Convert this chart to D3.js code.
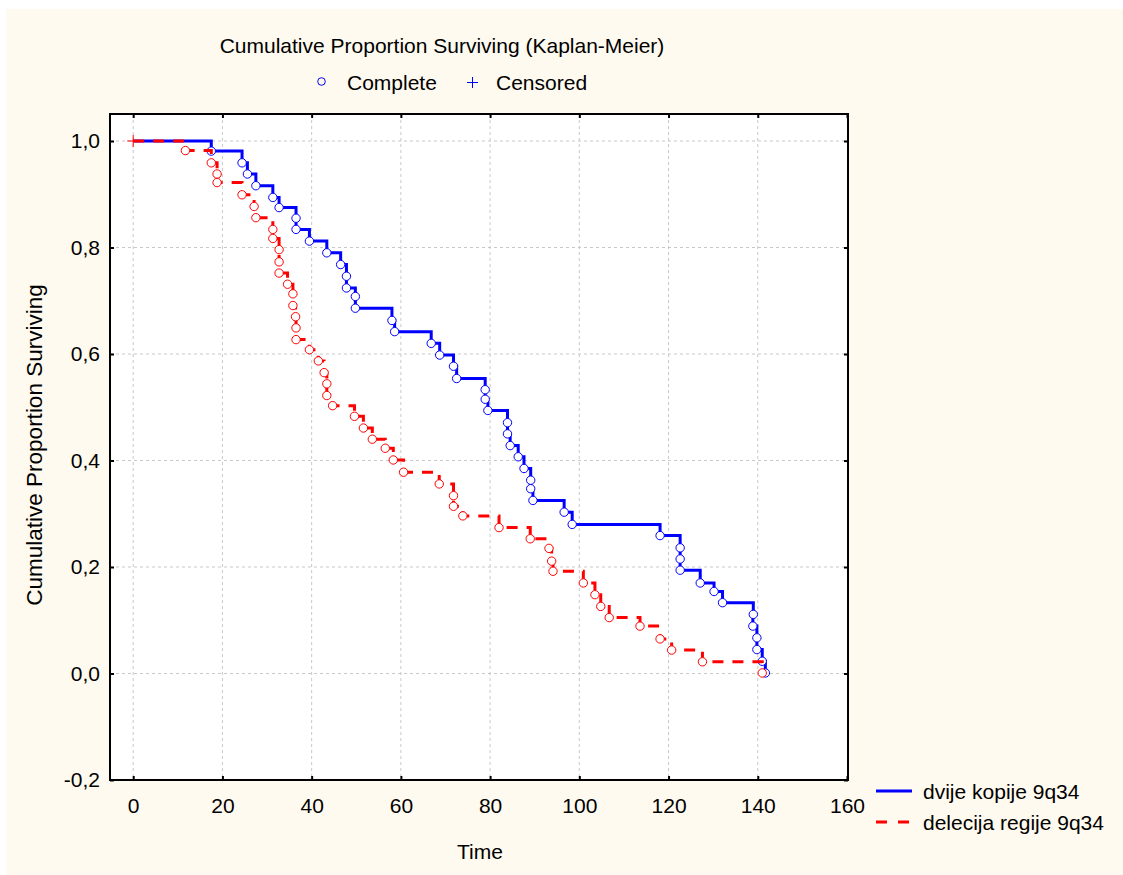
<!DOCTYPE html>
<html>
<head>
<meta charset="utf-8">
<script src="https://cdn.jsdelivr.net/npm/d3@7"></script>
<style>
  body { margin: 0; background: #ffffff; }
  text { font-family: "Liberation Sans", Arial, sans-serif; fill: #000; }
</style>
</head>
<body>
<script>
'use strict';

// tick values on both axes
const xTicks = [0, 20, 40, 60, 80, 100, 120, 140, 160];
const yTicks = [-0.2, 0.0, 0.2, 0.4, 0.6, 0.8, 1.0];

// group names (legend)
const groupNames = ["dvije kopije 9q34", "delecija regije 9q34"];

// dvije kopije 9q34 - complete events (time, proportion surviving after event)
const blueTimes = [17.5, 24.4, 25.6, 27.5, 31.3, 32.7, 36.5, 36.5, 39.5, 43.4,
  46.5, 47.8, 47.8, 49.8, 49.8, 58.0, 58.6, 66.8, 68.7, 71.8,
  72.5, 78.9, 78.9, 79.5, 83.9, 83.9, 84.5, 86.3, 87.6, 89.1,
  89.1, 89.6, 96.6, 98.4, 118.1, 122.6, 122.6, 122.6, 127.1, 130.2,
  132.1, 139.0, 138.9, 139.8, 139.8, 141.0, 141.7];
const blueSurv = [0.981, 0.959, 0.938, 0.916, 0.894, 0.875, 0.855, 0.834, 0.812, 0.790,
  0.768, 0.746, 0.724, 0.708, 0.686, 0.663, 0.642, 0.620, 0.598, 0.577,
  0.554, 0.533, 0.515, 0.494, 0.471, 0.450, 0.428, 0.407, 0.385, 0.363,
  0.347, 0.325, 0.303, 0.280, 0.259, 0.236, 0.215, 0.194, 0.170, 0.154,
  0.133, 0.111, 0.089, 0.067, 0.045, 0.023, 0.001];

// delecija regije 9q34 - complete events
const redTimes = [11.7, 17.5, 18.8, 18.8, 24.4, 27.1, 27.5, 31.3, 31.3, 32.7,
  32.7, 32.7, 34.6, 35.8, 35.8, 36.4, 36.5, 36.5, 39.5, 41.5,
  42.8, 43.4, 43.4, 44.7, 49.6, 51.6, 53.6, 56.5, 58.3, 60.6,
  68.6, 71.8, 71.8, 73.9, 82.0, 89.0, 93.2, 93.8, 94.1, 100.9,
  103.5, 104.8, 106.7, 113.6, 118.1, 120.7, 127.6, 141.0];
const redSurv = [0.982, 0.959, 0.938, 0.922, 0.899, 0.877, 0.856, 0.834, 0.817, 0.796,
  0.773, 0.752, 0.731, 0.713, 0.691, 0.670, 0.649, 0.627, 0.608, 0.587,
  0.565, 0.544, 0.522, 0.503, 0.483, 0.461, 0.440, 0.423, 0.401, 0.378,
  0.356, 0.334, 0.314, 0.296, 0.274, 0.253, 0.235, 0.211, 0.192, 0.170,
  0.148, 0.126, 0.105, 0.089, 0.065, 0.044, 0.022, 0.001];

// censored observations
const censTimes = [0];
const censSurv = [1.0];

const W = 1123, H = 875;
const plot = { left: 110, right: 848, top: 114, bottom: 780 };

let svgContainer = d3.select('body')
  .append('svg')
  .attr('width', W)
  .attr('height', H);

// background panels
svgContainer.append('rect')
  .attr('x', 6).attr('y', 9)
  .attr('width', W - 6).attr('height', H - 9)
  .attr('fill', '#fffaef');

svgContainer.append('rect')
  .attr('x', plot.left).attr('y', plot.top)
  .attr('width', plot.right - plot.left).attr('height', plot.bottom - plot.top)
  .attr('fill', '#ffffff');

// scales
let xScale = d3.scaleLinear().domain([-5.2, 160]).range([plot.left, 847]);
let yScale = d3.scaleLinear().domain([-0.2, 1.0]).range([plot.bottom, 141]);

const fmt = (d) => d.toFixed(1).replace('.', ',');

// grid lines
let grid = svgContainer.append('g');
grid.selectAll('.vgrid')
  .data(xTicks.filter((d) => d < 160))
  .enter()
  .append('line')
  .attr('x1', (d) => xScale(d)).attr('x2', (d) => xScale(d))
  .attr('y1', plot.top).attr('y2', plot.bottom)
  .attr('stroke', '#c8c8c8')
  .attr('stroke-dasharray', '3,3');
grid.selectAll('.hgrid')
  .data(yTicks.filter((d) => d > -0.2))
  .enter()
  .append('line')
  .attr('x1', plot.left).attr('x2', plot.right)
  .attr('y1', (d) => yScale(d)).attr('y2', (d) => yScale(d))
  .attr('stroke', '#c8c8c8')
  .attr('stroke-dasharray', '3,3');

// axes, ticks pointing inward
let xAxis = d3.axisBottom(xScale).tickValues(xTicks).tickSizeInner(-4).tickSizeOuter(0).tickPadding(18);
let xg = svgContainer.append('g')
  .attr('transform', 'translate(0,' + plot.bottom + ')')
  .call(xAxis);
xg.select('.domain').remove();
xg.selectAll('text').style('font-size', '21px').attr('font-family', null);
xg.selectAll('line').attr('stroke-width', 2);

let yAxis = d3.axisLeft(yScale).tickValues(yTicks).tickFormat(fmt).tickSizeInner(-4).tickSizeOuter(0).tickPadding(10);
let yg = svgContainer.append('g')
  .attr('transform', 'translate(' + plot.left + ',0)')
  .call(yAxis);
yg.select('.domain').remove();
yg.selectAll('text').style('font-size', '21px').attr('font-family', null);
yg.selectAll('line').attr('stroke-width', 2);

// right and top ticks
let yAxisR = d3.axisRight(yScale).tickValues(yTicks).tickSizeInner(-4).tickSizeOuter(0).tickFormat('');
let yr = svgContainer.append('g')
  .attr('transform', 'translate(' + plot.right + ',0)')
  .call(yAxisR);
yr.select('.domain').remove();
yr.selectAll('line').attr('stroke-width', 2);

let xAxisT = d3.axisTop(xScale).tickValues(xTicks).tickSizeInner(-4).tickSizeOuter(0).tickFormat('');
let xt = svgContainer.append('g')
  .attr('transform', 'translate(0,' + plot.top + ')')
  .call(xAxisT);
xt.select('.domain').remove();
xt.selectAll('line').attr('stroke-width', 2);

// frame
svgContainer.append('rect')
  .attr('x', plot.left).attr('y', plot.top)
  .attr('width', plot.right - plot.left).attr('height', plot.bottom - plot.top)
  .attr('fill', 'none')
  .attr('stroke', '#000')
  .attr('stroke-width', 2);

// step line for a group, starting at (0, 1)
let stepLine = d3.line()
  .x((d) => xScale(d[0]))
  .y((d) => yScale(d[1]))
  .curve(d3.curveStepAfter);

function drawGroup(times, surv, color, dash) {
  let pts = [[0, 1]].concat(times.map((t, i) => [t, surv[i]]));
  svgContainer.append('path')
    .datum(pts)
    .attr('d', stepLine)
    .attr('fill', 'none')
    .attr('stroke', color)
    .attr('stroke-width', 3)
    .attr('stroke-dasharray', dash);

  svgContainer.append('g')
    .selectAll('circle')
    .data(pts.slice(1))
    .enter()
    .append('circle')
    .attr('cx', (d) => xScale(d[0]))
    .attr('cy', (d) => yScale(d[1]))
    .attr('r', 4.2)
    .attr('fill', '#fff')
    .attr('stroke', color)
    .attr('stroke-width', 1);
}

drawGroup(blueTimes, blueSurv, '#0000ff', null);
drawGroup(redTimes, redSurv, '#ff0000', '11,9');

// censored marks
censTimes.forEach((t, i) => {
  let cx = xScale(t), cy = yScale(censSurv[i]);
  svgContainer.append('path')
    .attr('d', 'M' + (cx - 6) + ',' + cy + 'H' + (cx + 6) + 'M' + cx + ',' + (cy - 6) + 'V' + (cy + 6))
    .attr('stroke', '#ff0000')
    .attr('stroke-width', 1);
});

// title and legend of markers
svgContainer.append('text')
  .attr('x', 442).attr('y', 53)
  .attr('text-anchor', 'middle')
  .style('font-size', '21px')
  .text('Cumulative Proportion Surviving (Kaplan-Meier)');

svgContainer.append('circle')
  .attr('cx', 321.5).attr('cy', 81.5).attr('r', 3.8)
  .attr('fill', 'none').attr('stroke', '#0000ff');
svgContainer.append('text')
  .attr('x', 347).attr('y', 90)
  .style('font-size', '21px')
  .text('Complete');
svgContainer.append('path')
  .attr('d', 'M467,82.5H478M472.5,77V88')
  .attr('stroke', '#0000ff');
svgContainer.append('text')
  .attr('x', 496).attr('y', 90)
  .style('font-size', '21px')
  .text('Censored');

// axis titles
svgContainer.append('text')
  .attr('x', 480).attr('y', 859)
  .attr('text-anchor', 'middle')
  .style('font-size', '21px')
  .text('Time');

svgContainer.append('text')
  .attr('transform', 'translate(42,445)rotate(-90)')
  .attr('text-anchor', 'middle')
  .style('font-size', '22.5px')
  .text('Cumulative Proportion Surviving');

// group legend
let legendColors = ['#0000ff', '#ff0000'];
let legendDash = [null, '11,11'];
let legend = svgContainer.selectAll('.legend')
  .data(groupNames)
  .enter()
  .append('g')
  .attr('class', 'legend')
  .attr('transform', (d, i) => 'translate(876,' + (791 + i * 31) + ')');

legend.append('line')
  .attr('x1', 0).attr('x2', 36)
  .attr('stroke', (d, i) => legendColors[i])
  .attr('stroke-width', 3)
  .attr('stroke-dasharray', (d, i) => legendDash[i]);

legend.append('text')
  .attr('x', 47).attr('y', 7.5)
  .style('font-size', '21px')
  .text((d) => d);
</script>
</body>
</html>
